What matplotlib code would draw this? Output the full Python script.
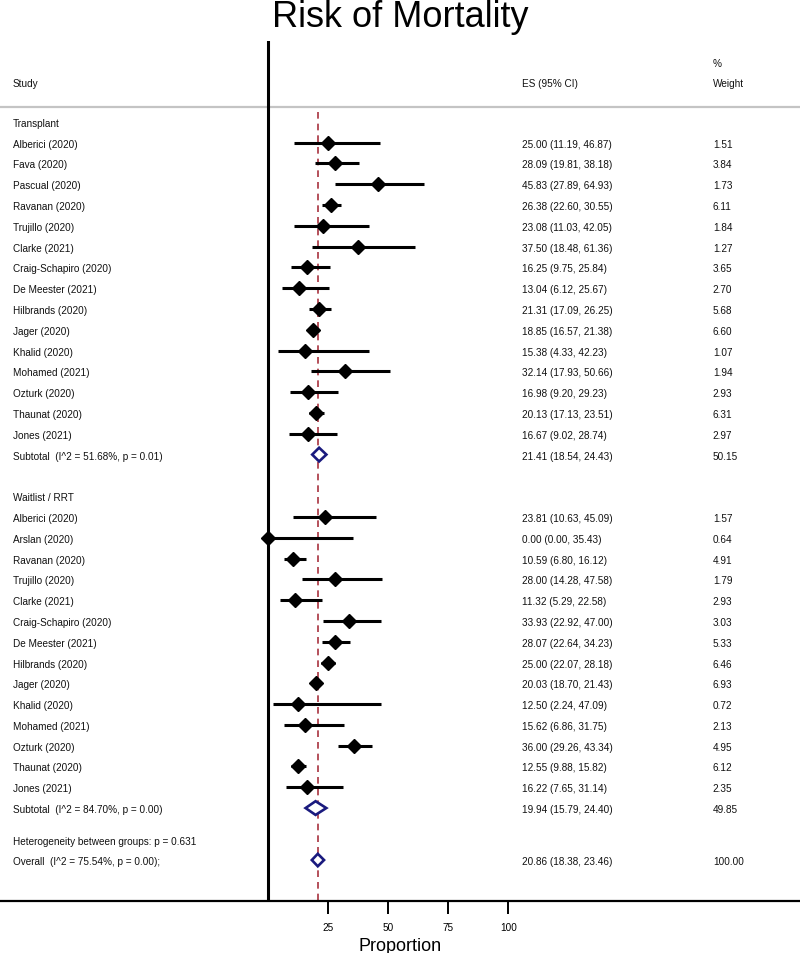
import numpy as np
import matplotlib
matplotlib.use('Agg')
import matplotlib.pyplot as plt
from matplotlib.patches import Polygon

plt.rcParams['font.family'] = ['Liberation Sans', 'DejaVu Sans']

# ---- data ----
transplant_studies = ['Alberici (2020)', 'Fava (2020)', 'Pascual (2020)', 'Ravanan (2020)',
                      'Trujillo (2020)', 'Clarke (2021)', 'Craig-Schapiro (2020)',
                      'De Meester (2021)', 'Hilbrands (2020)', 'Jager (2020)', 'Khalid (2020)',
                      'Mohamed (2021)', 'Ozturk (2020)', 'Thaunat (2020)', 'Jones (2021)']
transplant_es = [25.00, 28.09, 45.83, 26.38, 23.08, 37.50, 16.25, 13.04, 21.31, 18.85,
                 15.38, 32.14, 16.98, 20.13, 16.67]
transplant_lo = [11.19, 19.81, 27.89, 22.60, 11.03, 18.48, 9.75, 6.12, 17.09, 16.57,
                 4.33, 17.93, 9.20, 17.13, 9.02]
transplant_hi = [46.87, 38.18, 64.93, 30.55, 42.05, 61.36, 25.84, 25.67, 26.25, 21.38,
                 42.23, 50.66, 29.23, 23.51, 28.74]
transplant_w = [1.51, 3.84, 1.73, 6.11, 1.84, 1.27, 3.65, 2.70, 5.68, 6.60,
                1.07, 1.94, 2.93, 6.31, 2.97]
transplant_sub = (21.41, 18.54, 24.43, 50.15, 'Subtotal  (I^2 = 51.68%, p = 0.01)')

waitlist_studies = ['Alberici (2020)', 'Arslan (2020)', 'Ravanan (2020)', 'Trujillo (2020)',
                    'Clarke (2021)', 'Craig-Schapiro (2020)', 'De Meester (2021)',
                    'Hilbrands (2020)', 'Jager (2020)', 'Khalid (2020)', 'Mohamed (2021)',
                    'Ozturk (2020)', 'Thaunat (2020)', 'Jones (2021)']
waitlist_es = [23.81, 0.00, 10.59, 28.00, 11.32, 33.93, 28.07, 25.00, 20.03, 12.50,
               15.62, 36.00, 12.55, 16.22]
waitlist_lo = [10.63, 0.00, 6.80, 14.28, 5.29, 22.92, 22.64, 22.07, 18.70, 2.24,
               6.86, 29.26, 9.88, 7.65]
waitlist_hi = [45.09, 35.43, 16.12, 47.58, 22.58, 47.00, 34.23, 28.18, 21.43, 47.09,
               31.75, 43.34, 15.82, 31.14]
waitlist_w = [1.57, 0.64, 4.91, 1.79, 2.93, 3.03, 5.33, 6.46, 6.93, 0.72,
              2.13, 4.95, 6.12, 2.35]
waitlist_sub = (19.94, 15.79, 24.40, 49.85, 'Subtotal  (I^2 = 84.70%, p = 0.00)')

overall = (20.86, 18.38, 23.46, 100.00, 'Overall  (I^2 = 75.54%, p = 0.00);')
heterogeneity_text = 'Heterogeneity between groups: p = 0.631'

xticks = [25, 50, 75, 100]

# ---- figure ----
fig = plt.figure(figsize=(8, 9.54), dpi=100)
ax = fig.add_axes([0, 52 / 954, 1, (902 - 42) / 954])
ax.set_xlim(-111.1, 221.1)
ax.set_ylim(37.47, -3.89)

FS = 7.2
XS, XE, XW = 0.016, 0.652, 0.891
VA = 'center_baseline'
tr = ax.get_yaxis_transform()
navy = '#1a1a7e'


def fmt(es, lo, hi):
    return '%.2f (%.2f, %.2f)' % (es, lo, hi)


def label(x, y, s):
    ax.text(x, y, s, transform=tr, fontsize=FS, va=VA, color='#111111')


def study_rows(start, names, es, lo, hi, w):
    y = np.arange(start, start + len(names))
    ax.hlines(y, lo, hi, color='black', lw=2.2, zorder=3)
    ax.plot(es, y, 'D', color='black', ms=6.8, zorder=4)
    for yi, n, e, l, h, wi in zip(y, names, es, lo, hi, w):
        label(XS, yi, n)
        label(XE, yi, fmt(e, l, h))
        label(XW, yi, '%.2f' % wi)


def pooled_row(y, res, h=0.33):
    es, lo, hi, w, text = res
    ax.add_patch(Polygon([(lo, y), (es, y - h), (hi, y), (es, y + h)], closed=True,
                         facecolor='white', edgecolor=navy, lw=1.9, zorder=5))
    label(XS, y, text)
    label(XE, y, fmt(es, lo, hi))
    label(XW, y, '%.2f' % w)


# header
label(XS, -1.92, 'Study')
label(XE, -1.92, 'ES (95% CI)')
label(XW, -2.88, '%')
label(XW, -1.92, 'Weight')
ax.axhline(-0.72, color='#c4c4c4', lw=1.6, zorder=1)

# group 1
label(XS, 0, 'Transplant')
study_rows(1, transplant_studies, transplant_es, transplant_lo, transplant_hi, transplant_w)
pooled_row(16, transplant_sub)

# group 2
label(XS, 18, 'Waitlist / RRT')
study_rows(19, waitlist_studies, waitlist_es, waitlist_lo, waitlist_hi, waitlist_w)
pooled_row(33, waitlist_sub)

label(XS, 34.53, heterogeneity_text)
pooled_row(35.5, overall, h=0.3)

# reference lines
ax.axvline(0, color='black', lw=2.2, zorder=2)
ax.plot([overall[0], overall[0]], [-0.48, 37.47], color='#a8323e', lw=1.2,
        ls=(0, (4, 3)), zorder=2)

# axes styling
for s in ['left', 'right', 'top']:
    ax.spines[s].set_visible(False)
ax.spines['bottom'].set_linewidth(1.6)
ax.set_yticks([])
ax.set_xticks(xticks)
ax.set_xticklabels([str(t) for t in xticks])
ax.tick_params(axis='x', length=9.4, width=1.4, labelsize=7.2, pad=6)
ax.set_xlabel('Proportion', fontsize=13, labelpad=3)

fig.text(0.5, 1 - 27 / 954, 'Risk of Mortality', fontsize=26, ha='center', va='baseline')

fig.savefig('out.png', dpi=100)
